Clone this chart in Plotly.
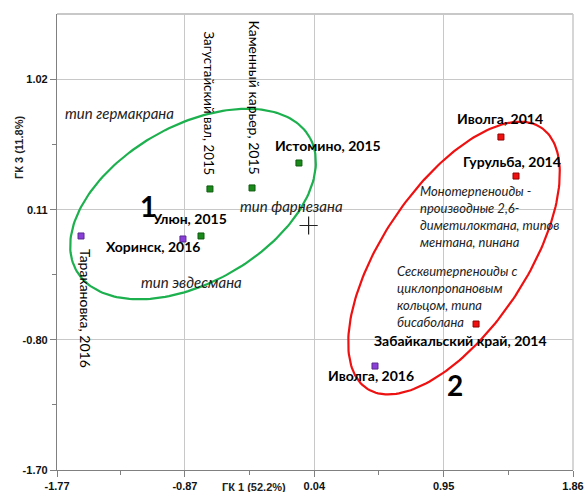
import numpy as np
import plotly.graph_objects as go

# ---- data ----
sites = ["Таракановка, 2016", "Хоринск, 2016", "Улюн, 2015", "Загустайский вал, 2015",
         "Каменный карьер, 2015", "Истомино, 2015", "Иволга, 2014", "Гурульба, 2014",
         "Забайкальский край, 2014", "Иволга, 2016"]
pc1 = [-1.601, -0.884, -0.757, -0.694, -0.398, -0.068, 1.353, 1.459, 1.178, 0.467]
pc3 = [-0.073, -0.094, -0.073, 0.255, 0.262, 0.436, 0.617, 0.345, -0.687, -0.980]
groups = ["p", "p", "g", "g", "g", "g", "r", "r", "r", "p"]

x_ticks = [-1.77, -0.87, 0.04, 0.95, 1.86]
x_ticktext = ["-1.77", "-0.87", "0.04", "0.95", "1.86"]
y_ticks = [-1.705, -0.7975, 0.11, 1.0175]
y_ticktext = ["-1.70", "-0.80", "0.11", "1.02"]

# ellipse parameters: center x, center y, semi-major, semi-minor, angle (deg)
ell_green = [-0.813, 0.150, 0.943, 0.547, 29.4]
ell_red = [1.023, -0.227, 1.097, 0.505, 55.85]

# label positions (data coords) for point labels
lab_x = [-1.573, -1.095, -0.841, -0.704, -0.377, 0.136, 1.346, 1.431, 1.072, 0.439]
lab_y = [-0.575, -0.143, 0.052, 0.854, 0.893, 0.561, 0.743, 0.443, -0.805, -1.049]
lab_rot = [90, 0, 0, 90, 90, 0, 0, 0, 0, 0]
lab_size = [14, 14, 14, 13.3, 14, 14, 14, 14, 14, 14]

col_fill = {"g": "#1a8a1a", "p": "#8a3fd8", "r": "#f01010"}
col_edge = {"g": "#0d5a0d", "p": "#5a2a90", "r": "#900000"}

fig = go.Figure()

def ellipse(p, color):
    cx, cy, a, b, ang = p
    t = np.linspace(0, 2 * np.pi, 200)
    th = np.deg2rad(ang)
    xs = cx + a * np.cos(t) * np.cos(th) - b * np.sin(t) * np.sin(th)
    ys = cy + a * np.cos(t) * np.sin(th) + b * np.sin(t) * np.cos(th)
    fig.add_trace(go.Scatter(x=xs, y=ys, mode="lines", line=dict(color=color, width=2.2),
                             hoverinfo="skip", showlegend=False))

ellipse(ell_green, "#1db04e")
ellipse(ell_red, "#ee1111")

for g in ["g", "p", "r"]:
    idx = [i for i, gg in enumerate(groups) if gg == g]
    fig.add_trace(go.Scatter(
        x=[pc1[i] for i in idx], y=[pc3[i] for i in idx], mode="markers",
        marker=dict(symbol="square", size=6, color=col_fill[g],
                    line=dict(color=col_edge[g], width=1)),
        text=[sites[i] for i in idx], showlegend=False))

# origin cross
fig.add_trace(go.Scatter(x=[0], y=[0], mode="markers",
                         marker=dict(symbol="cross-thin", size=13,
                                     line=dict(color="#222222", width=1.2)),
                         showlegend=False, hoverinfo="skip"))

ann = []
for i, s in enumerate(sites):
    if lab_rot[i] == 90:
        ann.append(dict(x=lab_x[i], y=lab_y[i], text=s, textangle=90, showarrow=False,
                        xanchor="center", yanchor="middle",
                        font=dict(family="Lato", size=lab_size[i], color="black")))
    else:
        ann.append(dict(x=lab_x[i], y=lab_y[i], text="<b>" + s + "</b>", showarrow=False,
                        font=dict(family="Lato", size=lab_size[i], color="black")))

it_font = dict(family="Lato", size=13, color="#222222")
it_big = dict(family="Lato", size=15, color="#222222")
ann += [
    dict(x=-1.327, y=0.785, text="<i>тип гермакрана</i>", showarrow=False, font=it_big),
    dict(x=-0.117, y=0.136, text="<i>тип фарнезана</i>", showarrow=False, font=it_big),
    dict(x=-0.827, y=-0.394, text="<i>тип эвдесмана</i>", showarrow=False, font=it_big),
    dict(x=0.770, y=0.066, xanchor="left", align="left", showarrow=False, font=it_font,
         text="<i>Монотерпеноиды -<br>производные 2,6-<br>диметилоктана, типов<br>ментана, пинана</i>"),
    dict(x=0.608, y=-0.495, xanchor="left", align="left", showarrow=False, font=it_font,
         text="<i>Сесквитерпеноиды с<br>циклопропановым<br>кольцом, типа<br>бисаболана</i>"),
    dict(x=-1.130, y=0.136, text="<b>1</b>", showarrow=False,
         font=dict(family="Lato", size=28, color="black")),
    dict(x=1.030, y=-1.112, text="<b>2</b>", showarrow=False,
         font=dict(family="Lato", size=28, color="black")),
    dict(xref="paper", yref="paper", x=(254 - 57) / 516, y=(470 - 487) / 456,
         xanchor="center", yanchor="middle",
         text="<b>ГК 1 (52.2%)</b>", showarrow=False,
         font=dict(family="Liberation Sans", size=11, color="#222222")),
    dict(xref="paper", yref="paper", x=(19 - 57) / 516, y=(470 - 148) / 456,
         xanchor="center", yanchor="middle",
         text="<b>ГК 3 (11.8%)</b>", textangle=-90, showarrow=False,
         font=dict(family="Liberation Sans", size=11, color="#222222")),
]

def mids(v):
    return [(v[i] + v[i + 1]) / 2 for i in range(len(v) - 1)]

axis_common = dict(showgrid=True, gridcolor="#c8c8c8", gridwidth=1, zeroline=False,
                   showline=True, linecolor="#808080", linewidth=1.2,
                   ticks="outside", ticklen=6, tickcolor="#808080", automargin=False,
                   ticklabeloverflow="allow",
                   tickfont=dict(family="Liberation Sans", size=11, color="#111111"))

fig.update_layout(
    width=586, height=492,
    margin=dict(l=57, r=13, t=14, b=22),
    paper_bgcolor="white", plot_bgcolor="white",
    xaxis=dict(range=[-1.77, 1.86], tickvals=x_ticks,
               ticktext=["<b>" + t + "</b>" for t in x_ticktext],
               minor=dict(tickvals=mids(x_ticks), ticks="outside", ticklen=4,
                          tickcolor="#808080", showgrid=False),
               **axis_common),
    yaxis=dict(range=[-1.705, 1.475], tickvals=y_ticks,
               ticktext=["<b>" + t + "</b>" for t in y_ticktext],
               minor=dict(tickvals=mids(y_ticks), ticks="outside", ticklen=4,
                          tickcolor="#808080", showgrid=False),
               **axis_common),
    annotations=ann,
    shapes=[dict(type="line", xref="paper", yref="paper", x0=0, x1=1, y0=1, y1=1,
                 line=dict(color="#c8c8c8", width=2)),
            dict(type="line", xref="paper", yref="paper", x0=1, x1=1, y0=0, y1=1,
                 line=dict(color="#c8c8c8", width=1.5))],
    showlegend=False,
)

# remove the default 8px page margin so the 586x492 figure fills the window exactly
fig.write_html("out.html",
               config={"displayModeBar": False},
               post_script="document.body.style.margin='0';document.body.style.overflow='hidden';")
